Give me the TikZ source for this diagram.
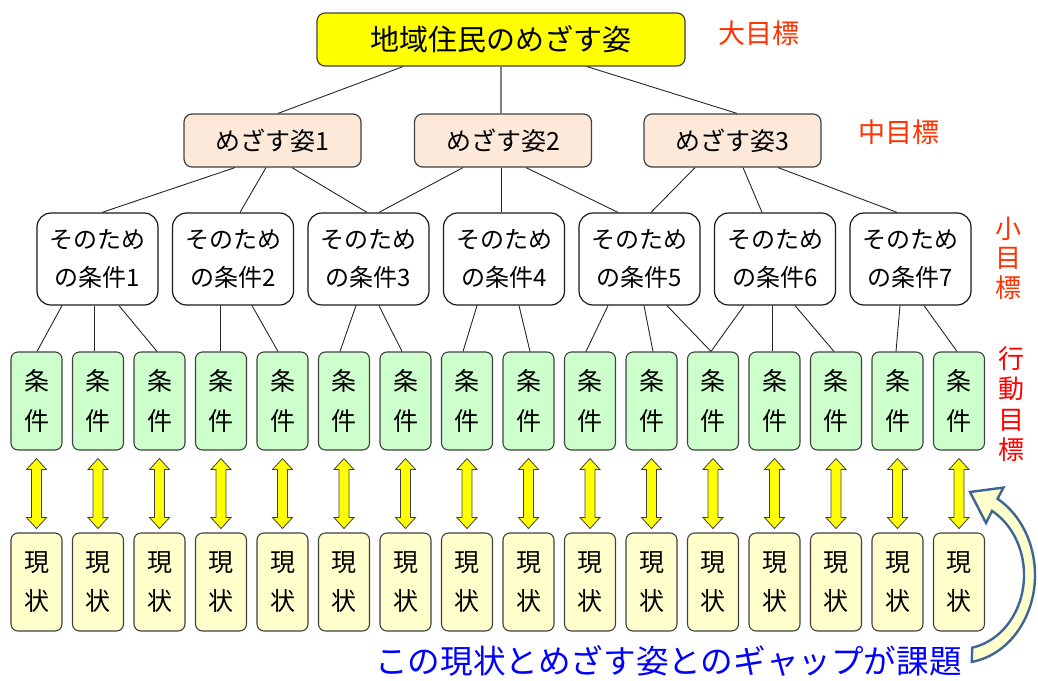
\documentclass[tikz,border=0pt]{standalone}
\usepackage{fontspec}
\setmainfont{Noto Sans CJK JP}
\usetikzlibrary{calc}
\definecolor{topfill}{HTML}{FFFF00}
\definecolor{midfill}{HTML}{FDE9D9}
\definecolor{grfill}{HTML}{CCFFCC}
\definecolor{curfill}{HTML}{FFFFCC}
\definecolor{lblorange}{HTML}{FF3300}
\definecolor{lblred}{HTML}{FF0000}
\definecolor{gapblue}{HTML}{0000FF}
\definecolor{arcline}{HTML}{3D6596}
\definecolor{edge}{HTML}{404040}
\newcommand\linkto[4]{\draw[conn] ($(#1.south)+(#2,0)$) -- ($(#3.north)+(#4,0)$);}
\begin{document}
\begin{tikzpicture}[x=1pt,y=-1pt,
  topbox/.style={draw=edge, line width=1.2pt, fill=topfill, rounded corners=8pt,
    minimum width=368pt, minimum height=53pt, inner sep=0pt,
    font=\fontsize{29}{34}\selectfont},
  midbox/.style={draw=edge, line width=1.2pt, fill=midfill, rounded corners=8pt,
    minimum width=177pt, minimum height=53pt, inner sep=0pt,
    font=\fontsize{25}{30}\selectfont},
  subbox/.style={draw=black!90, line width=1.2pt, fill=white, rounded corners=14pt,
    minimum width=121pt, minimum height=92pt, inner sep=0pt, align=center,
    font=\fontsize{24}{38}\selectfont},
  condbox/.style={draw=edge, line width=1.1pt, fill=grfill, rounded corners=7pt,
    minimum width=51pt, minimum height=98pt, inner sep=0pt, align=center,
    font=\fontsize{25}{40}\selectfont},
  nowbox/.style={draw=edge, line width=1.1pt, fill=curfill, rounded corners=7pt,
    minimum width=51pt, minimum height=98pt, inner sep=0pt, align=center,
    font=\fontsize{25}{39}\selectfont},
  conn/.style={draw=black!85, line width=0.9pt},
  connmain/.style={draw=black!50, line width=1.6pt},
  yarr/.style={draw=black!75, line width=0.8pt, fill=topfill, line join=miter},
  lbl/.style={inner sep=0pt, text=lblorange, font=\fontsize{27}{30}\selectfont},
  vlbl/.style={inner sep=0pt, align=center, font=\fontsize{26}{29.5}\selectfont},
  gaparrow/.style={draw=arcline, line width=2.4pt, fill=curfill, line join=miter},
]
\useasboundingbox (0,0) rectangle (1038,680);

% top and middle goals
\node[topbox] (top) at (501,39.5) {地域住民のめざす姿};
\node[midbox] (m1) at (272.5,140.5) {めざす姿1};
\node[midbox] (m2) at (503,140.5) {めざす姿2};
\node[midbox] (m3) at (732.5,140.5) {めざす姿3};

% small goals
\node[subbox] (s1) at (97.5,259) {そのため\\の条件1};
\node[subbox] (s2) at (233,259) {そのため\\の条件2};
\node[subbox] (s3) at (368.5,259) {そのため\\の条件3};
\node[subbox] (s4) at (504,259) {そのため\\の条件4};
\node[subbox] (s5) at (639.5,259) {そのため\\の条件5};
\node[subbox] (s6) at (775,259) {そのため\\の条件6};
\node[subbox] (s7) at (910.5,259) {そのため\\の条件7};

% conditions, current states and yellow double arrows
\foreach \i in {0,...,15} {
  \node[condbox] (g\i) at ({36.5+61.5*\i},401) {条\\件};
  \node[nowbox] (c\i) at ({36.5+61.5*\i},582) {現\\状};
  \draw[yarr] ($(g\i.south)+(0,8)$) -- ++(10,11) -- ++(-5,0) -- ++(0,48) -- ++(5,0)
    -- ++(-10,11) -- ++(-10,-11) -- ++(5,0) -- ++(0,-48) -- ++(-5,0) -- cycle;
}

% connectors top -> middle
\linkto{top}{-98}{m1}{5.5}
\draw[connmain] (top.south) -- (top.south |- m2.north);
\linkto{top}{86}{m3}{4.5}

% middle -> small
\linkto{m1}{-37.5}{s1}{4.5}
\linkto{m1}{-6.5}{s2}{7}
\linkto{m1}{19.5}{s3}{-1.5}
\linkto{m2}{-40}{s3}{10.5}
\linkto{m2}{-2}{s4}{-3}
\linkto{m2}{23}{s5}{-21.5}
\linkto{m3}{-37.5}{s5}{11.5}
\linkto{m3}{10.5}{s6}{-13}
\linkto{m3}{45.5}{s7}{-13.5}

% small -> conditions
\linkto{s1}{-35.5}{g0}{0.5}
\linkto{s1}{-3.5}{g1}{-4}
\linkto{s1}{21.5}{g2}{-2.5}
\linkto{s2}{-13}{g3}{-1}
\linkto{s2}{19}{g4}{-4.5}
\linkto{s3}{-12.5}{g5}{-4}
\linkto{s3}{10.5}{g6}{-3.5}
\linkto{s4}{-27}{g7}{-4}
\linkto{s4}{15}{g8}{1.5}
\linkto{s5}{-31.5}{g9}{-4}
\linkto{s5}{4.5}{g10}{1.5}
\linkto{s5}{27.5}{g11}{-2}
\linkto{s6}{-31}{g11}{-2}
\linkto{s6}{-3}{g12}{-2.5}
\linkto{s6}{20}{g13}{-2}
\linkto{s7}{-10.5}{g14}{-1.5}
\linkto{s7}{13.5}{g15}{-2}

% level labels
\node[lbl] (lbig) at (759,33) {大目標};
\node[lbl] (lmid) at (899,132) {中目標};
\node[vlbl, text=lblorange] (lsmall) at (1008,258) {小\\目\\標};
\node[vlbl, text=lblred, font=\fontsize{26}{30.5}\selectfont] (lact) at (1011,404) {行\\動\\目\\標};

% gap text and curved arrow
\node[inner sep=0pt, text=gapblue, font=\fontsize{32.6}{36}\selectfont] (gap) at (668.5,661) {この現状とめざす姿とのギャップが課題};
\coordinate (C) at (960,575);
\coordinate (tip) at (970,492);
\draw[gaparrow] ($(C)+(81:75 and 88)$) arc[start angle=81, end angle=-60, x radius=75, y radius=88]
  -- ($(C)+(-60:87 and 101)$) -- (tip) -- ($(C)+(-60:52 and 60)$)
  -- ($(C)+(-60:64 and 74)$) arc[start angle=-60, end angle=79, x radius=64, y radius=74] -- cycle;
\end{tikzpicture}
\end{document}
